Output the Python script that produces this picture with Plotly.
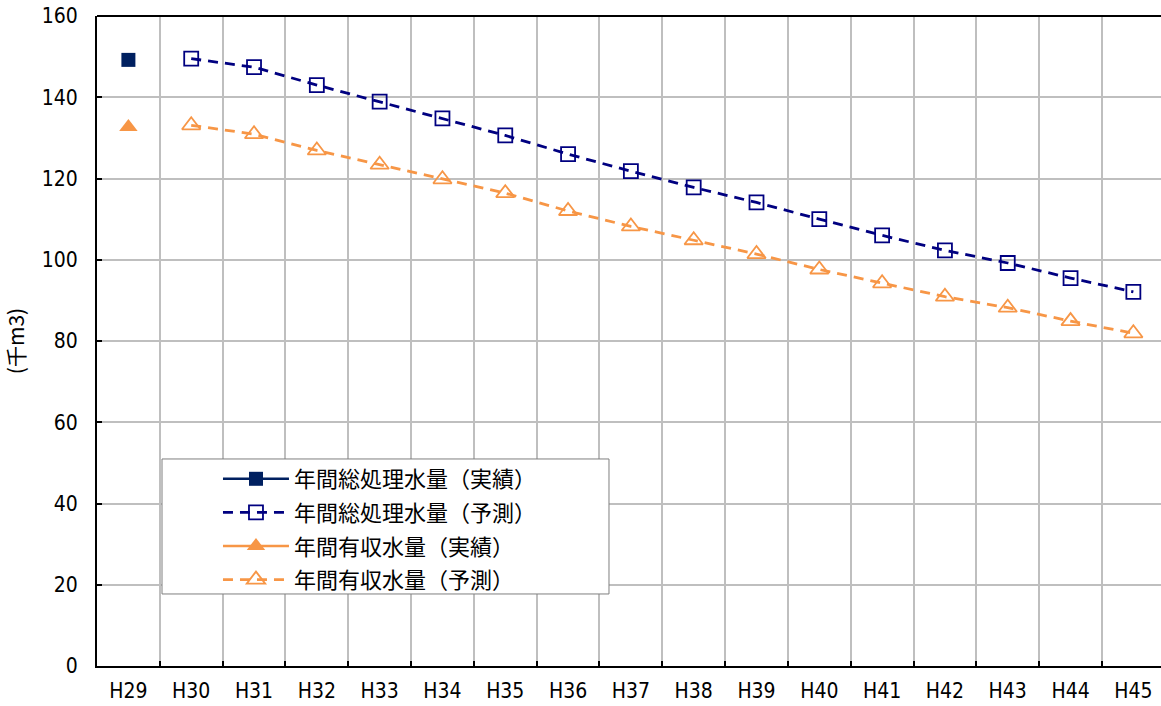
import plotly.graph_objects as go

years = ["H29", "H30", "H31", "H32", "H33", "H34", "H35", "H36", "H37",
         "H38", "H39", "H40", "H41", "H42", "H43", "H44", "H45"]
forecast_years = years[1:]

total_actual = [149.2]
total_forecast = [149.5, 147.4, 143.0, 138.9, 134.8, 130.6, 126.0, 121.8,
                  117.8, 114.1, 110.0, 106.0, 102.3, 99.2, 95.5, 92.1]
revenue_actual = [132.7]
revenue_forecast = [133.1, 130.9, 126.9, 123.4, 119.8, 116.4, 112.0, 108.2,
                    104.8, 101.4, 97.6, 94.2, 90.9, 88.2, 84.9, 81.9]

names = ["年間総処理水量（実績）", "年間総処理水量（予測）",
         "年間有収水量（実績）", "年間有収水量（予測）"]

NAVY = "#002060"
BLUE = "#000080"
ORANGE = "#F79646"
NUM_FONT = "Liberation Sans Narrow, DejaVu Sans Condensed, Arial Narrow, sans-serif"
CJK_FONT = "Noto Sans CJK JP, sans-serif"

fig = go.Figure()
fig.add_trace(go.Scatter(x=years[:1], y=total_actual, name=names[0], mode="lines+markers",
                         line=dict(color=NAVY, width=2.5),
                         marker=dict(symbol="square", size=14, color=NAVY), legendgroup="a"))
fig.add_trace(go.Scatter(x=forecast_years, y=total_forecast, name=names[1], mode="lines+markers",
                         line=dict(color=BLUE, width=2.8, dash="10px,7px"),
                         marker=dict(symbol="square-open", size=14, color=BLUE, line=dict(width=1.8)),
                         legendgroup="b"))
fig.add_trace(go.Scatter(x=years[:1], y=revenue_actual, name=names[2], mode="lines+markers",
                         line=dict(color=ORANGE, width=2.5),
                         marker=dict(symbol="triangle-up", size=16, color=ORANGE), legendgroup="c"))
fig.add_trace(go.Scatter(x=forecast_years, y=revenue_forecast, name=names[3], mode="lines+markers",
                         line=dict(color=ORANGE, width=2.8, dash="10px,7px"),
                         marker=dict(symbol="triangle-up-open", size=16, color=ORANGE, line=dict(width=1.8)),
                         legendgroup="d"))

fig.add_shape(type="rect", xref="paper", yref="paper",
              x0=0.0611, x1=0.4812, y0=0.1108, y1=0.3185,
              fillcolor="white", line=dict(color="#7f7f7f", width=1), layer="above")
fig.add_shape(type="line", xref="paper", yref="paper", x0=0, x1=1, y0=1, y1=1,
              line=dict(color="black", width=2))

fig.update_layout(
    width=1161, height=706,
    margin=dict(l=97, r=0, t=16, b=40),
    plot_bgcolor="white", paper_bgcolor="white",
    showlegend=True,
    legend=dict(x=0.1137, y=0.32, xanchor="left", yanchor="top",
                bgcolor="rgba(0,0,0,0)", borderwidth=0,
                font=dict(family=CJK_FONT, size=22, color="black"),
                traceorder="grouped", tracegroupgap=2, itemwidth=66),
    xaxis=dict(type="category", categoryorder="array", categoryarray=years,
               range=[-0.5, 16.44], tickson="boundaries",
               ticks="inside", ticklen=5, tickcolor="black", tickwidth=1.5,
               showgrid=True, gridcolor="#bfbfbf", gridwidth=1.5,
               showline=True, linecolor="black", linewidth=2,
               tickfont=dict(family=NUM_FONT, size=21, color="black"),
               ticklabelstandoff=5, ticklabeloverflow="allow"),
    yaxis=dict(range=[0, 160], dtick=20, tick0=0,
               ticks="inside", ticklen=5, tickcolor="black", tickwidth=1.5,
               showgrid=True, gridcolor="#bfbfbf", gridwidth=1.5, zeroline=False,
               showline=True, linecolor="black", linewidth=2,
               tickfont=dict(family=NUM_FONT, size=21, color="black"),
               ticklabelstandoff=13, ticklabeloverflow="allow",
               title=dict(text="(千m3)", font=dict(family=CJK_FONT, size=21, color="black"),
                          standoff=19)),
)

fig.write_html("out.html", config={"displayModeBar": False},
               post_script="document.body.style.margin='0';")
